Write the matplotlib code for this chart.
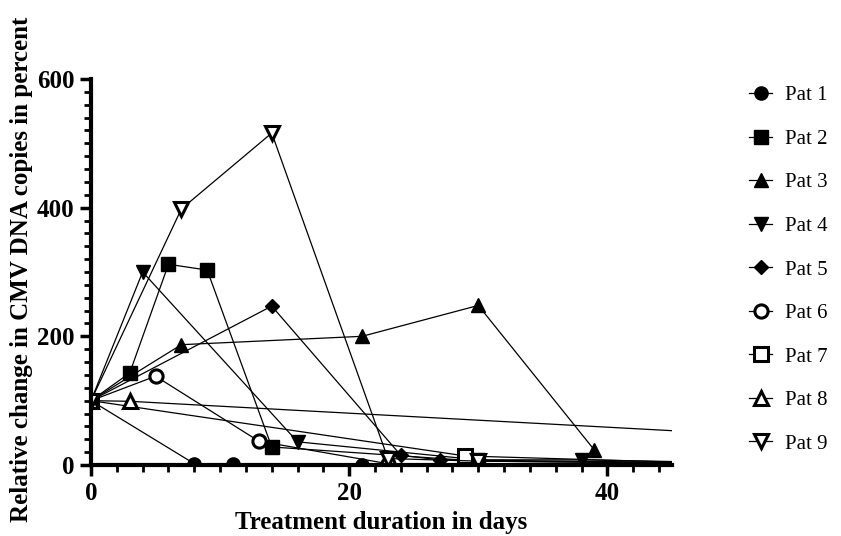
import matplotlib
matplotlib.use('Agg')
import matplotlib.pyplot as plt
from matplotlib.ticker import MultipleLocator

plt.rcParams['font.family'] = ['Liberation Serif', 'DejaVu Serif']

# days and relative change (%) per patient
pat1_x = [0, 8, 11, 21]
pat1_y = [100, 2, 2, 0]
pat2_x = [0, 3, 6, 9, 14, 30, 46]
pat2_y = [100, 143, 312, 303, 28, 6, 3]
pat3_x = [0, 7, 21, 30, 39]
pat3_y = [100, 187, 200, 248, 23]
pat4_x = [0, 4, 16, 30, 38, 46]
pat4_y = [100, 300, 36, 8, 8, 5]
pat5_x = [0, 14, 24, 27, 46]
pat5_y = [100, 247, 15, 8, 4]
pat6_x = [0, 5, 13, 23]
pat6_y = [100, 138, 37, 2]
pat7_x = [0, 29, 46]
pat7_y = [100, 14, 4]
pat8_x = [0, 3, 60]
pat8_y = [100, 99, 37]
pat9_x = [0, 7, 14, 23, 30, 46]
pat9_y = [100, 398, 516, 10, 6, 3]

series = [
    ('Pat 1', pat1_x, pat1_y, 'o', True),
    ('Pat 2', pat2_x, pat2_y, 's', True),
    ('Pat 3', pat3_x, pat3_y, '^', True),
    ('Pat 4', pat4_x, pat4_y, 'v', True),
    ('Pat 5', pat5_x, pat5_y, 'D', True),
    ('Pat 6', pat6_x, pat6_y, 'o', False),
    ('Pat 7', pat7_x, pat7_y, 's', False),
    ('Pat 8', pat8_x, pat8_y, '^', False),
    ('Pat 9', pat9_x, pat9_y, 'v', False),
]

fig = plt.figure(figsize=(8.41, 5.36), dpi=100)
ax = fig.add_axes([0.1082, 0.1325, 0.6908, 0.7201])

for name, xs, ys, m, filled in series:
    ms = 7 if m == 'D' else 9.5
    ax.plot(xs, ys, color='black', lw=0.9, marker=m, markersize=ms,
            markerfacecolor='black' if filled else 'white',
            markeredgecolor='black', markeredgewidth=2.2 if not filled else 1.0,
            label=name)

ax.set_xlim(0, 45)
ax.set_ylim(0, 600)
ax.xaxis.set_major_locator(MultipleLocator(20))
ax.xaxis.set_minor_locator(MultipleLocator(2))
ax.yaxis.set_major_locator(MultipleLocator(200))
ax.yaxis.set_minor_locator(MultipleLocator(20))

for s in ['top', 'right']:
    ax.spines[s].set_visible(False)
for s in ['left', 'bottom']:
    ax.spines[s].set_linewidth(3)

ax.tick_params(which='major', length=8, width=2.5, labelsize=18, pad=4)
ax.tick_params(which='minor', length=5, width=2)
for lab in ax.get_xticklabels() + ax.get_yticklabels():
    lab.set_fontweight('bold')

ax.set_xlabel('Treatment duration in days', fontsize=18, fontweight='bold')
ax.set_ylabel('Relative change in CMV DNA copies in percent', fontsize=18,
              fontweight='bold')
ax.xaxis.set_label_coords(0.5, -0.12)
ax.yaxis.set_label_coords(-0.1, 0.508)

ax.legend(loc='upper left', bbox_to_anchor=(1.101, 1.031), frameon=False,
          fontsize=15, handlelength=1.1, labelspacing=1.15, handletextpad=0.6,
          borderpad=0.4)

fig.savefig('out.png', dpi=100)
